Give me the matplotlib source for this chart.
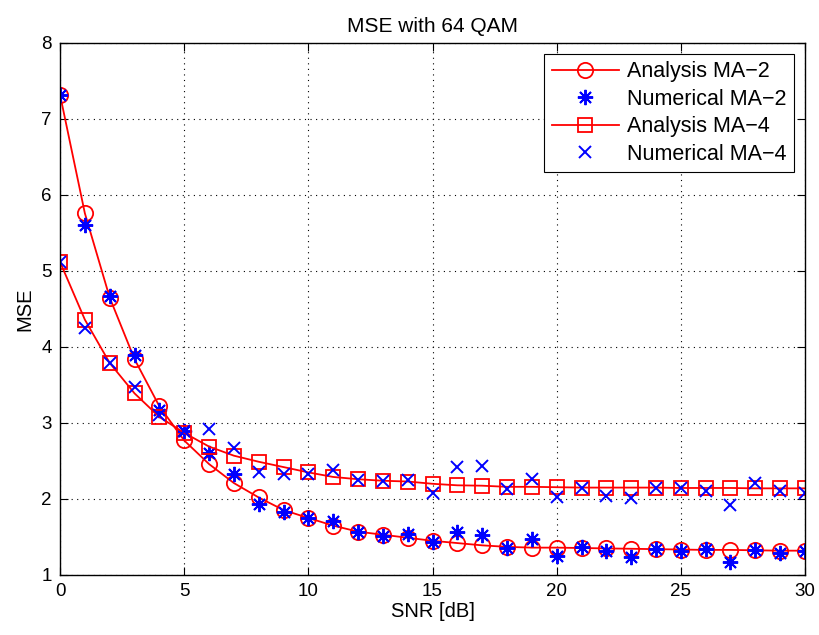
import matplotlib
matplotlib.use("Agg")
import matplotlib.pyplot as plt
import numpy as np

plt.rcParams['font.family'] = ['Liberation Sans', 'DejaVu Sans']

snr = list(range(0, 31))

analysis_ma2 = [7.32, 5.76, 4.65, 3.84, 3.22, 2.77, 2.46, 2.21, 2.02, 1.855, 1.75,
                1.65, 1.57, 1.53, 1.49, 1.45, 1.42, 1.39, 1.37, 1.36, 1.36,
                1.355, 1.35, 1.345, 1.34, 1.335, 1.33, 1.33, 1.325, 1.32, 1.32]
numerical_ma2 = [7.32, 5.60, 4.67, 3.89, 3.17, 2.89, 2.61, 2.33, 1.93, 1.83, 1.75,
                 1.71, 1.57, 1.51, 1.54, 1.44, 1.56, 1.53, 1.35, 1.47, 1.25,
                 1.37, 1.32, 1.24, 1.34, 1.32, 1.34, 1.175, 1.33, 1.29, 1.31]
analysis_ma4 = [5.12, 4.36, 3.79, 3.39, 3.08, 2.87, 2.69, 2.57, 2.49, 2.42, 2.35,
                2.29, 2.26, 2.24, 2.23, 2.20, 2.18, 2.175, 2.16, 2.16, 2.155,
                2.15, 2.15, 2.15, 2.15, 2.145, 2.145, 2.145, 2.14, 2.14, 2.14]
numerical_ma4 = [5.12, 4.25, 3.79, 3.47, 3.11, 2.89, 2.92, 2.67, 2.36, 2.33, 2.33,
                 2.38, 2.25, 2.24, 2.25, 2.08, 2.42, 2.44, 2.13, 2.26, 2.03,
                 2.14, 2.04, 2.01, 2.14, 2.14, 2.10, 1.92, 2.21, 2.11, 2.075]

fig = plt.figure(figsize=(8.2, 6.35), dpi=100)
ax = fig.add_axes([0.0732, 0.0945, 0.9085, 0.8378])

red = '#ff0000'
blue = '#0000ff'

ax.plot(snr, analysis_ma2, color=red, lw=1.3, marker='o', ms=11,
        mfc='none', mec=red, mew=1.3, label='Analysis MA\u22122')
ax.plot(snr, numerical_ma2, ls='none', marker=(8, 2, 0), ms=11,
        mec=blue, mew=1.4, color=blue, label='Numerical MA\u22122')
ax.plot(snr, analysis_ma4, color=red, lw=1.3, marker='s', ms=10,
        mfc='none', mec=red, mew=1.3, label='Analysis MA\u22124')
ax.plot(snr, numerical_ma4, ls='none', marker='x', ms=9,
        mec=blue, mew=1.4, color=blue, label='Numerical MA\u22124')

ax.set_xlim(0, 30)
ax.set_ylim(1, 8)
ax.set_xticks([0, 5, 10, 15, 20, 25, 30])
ax.set_yticks([1, 2, 3, 4, 5, 6, 7, 8])
ax.tick_params(direction='in', top=True, right=True, labelsize=13.5, length=6, width=0.8, pad=6)
ax.grid(True, ls=(0, (1, 4)), color='black', lw=0.8)
for s in ax.spines.values():
    s.set_linewidth(1.0)

ax.set_xlabel('SNR [dB]', fontsize=14.5, labelpad=1)
ax.set_ylabel('MSE', fontsize=14.5, labelpad=5)
ax.set_title('MSE with 64 QAM', fontsize=15, pad=8)

leg = ax.legend(loc='upper right', fontsize=15.5, frameon=True, fancybox=False,
                edgecolor='black', framealpha=1, borderpad=0.35, labelspacing=0.3,
                handlelength=3.1, handletextpad=0.4, borderaxespad=0.5)
leg.get_frame().set_linewidth(0.8)

fig.savefig('out.png', dpi=100)
